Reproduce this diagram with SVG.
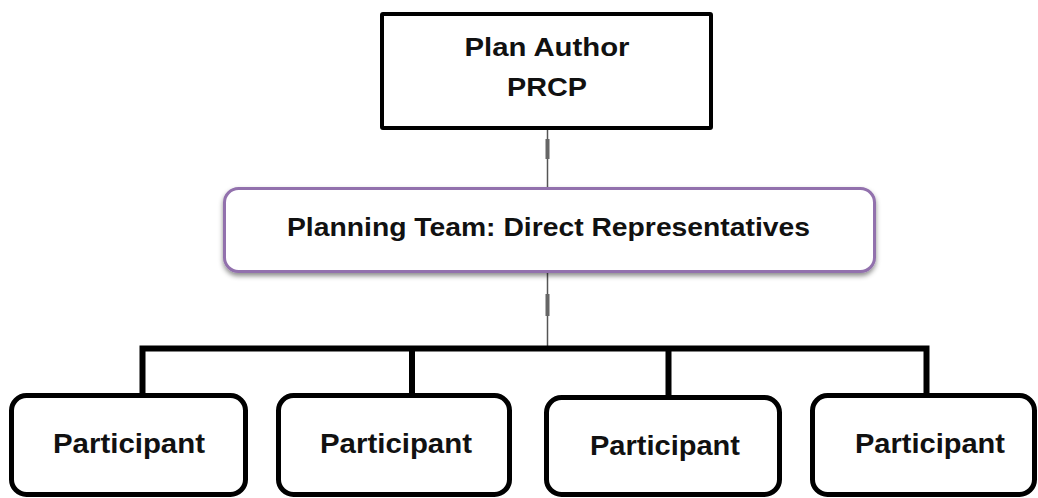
<svg xmlns="http://www.w3.org/2000/svg" width="1038" height="498" viewBox="0 0 1038 498">
<defs>
<filter id="sh" x="-5%" y="-20%" width="110%" height="150%">
<feDropShadow dx="0" dy="3" stdDeviation="2.5" flood-color="#000" flood-opacity="0.45"/>
</filter>
<style>
.t{font-family:"Liberation Sans",Arial,sans-serif;font-weight:bold;fill:#111;text-anchor:middle}
.box{fill:#fff;stroke:#000}
.thin{stroke:#555;stroke-width:1.5;fill:none}
.bus{stroke:#000;stroke-width:6;fill:none;stroke-linecap:square}
.tick{fill:#666}
</style>
</defs>
<rect width="1038" height="498" fill="#fff"/>
<g id="connectors">
<line class="thin" x1="547.5" y1="130" x2="547.5" y2="188"/>
<rect class="tick" x="545.5" y="139" width="4" height="20"/>
<line class="thin" x1="547.5" y1="273" x2="547.5" y2="346"/>
<rect class="tick" x="545.5" y="294" width="4" height="22"/>
<path class="bus" d="M142.5 395 V348.5 H926.5 V395 M412 348.5 V395 M668.5 348.5 V397"/>
</g>
<g id="plan-author">
<rect class="box" x="382" y="14" width="329" height="114" stroke-width="4" rx="1"/>
<text class="t" x="547" y="56" font-size="26.5" textLength="165" lengthAdjust="spacingAndGlyphs">Plan Author</text>
<text class="t" x="547" y="96" font-size="26.5" textLength="80" lengthAdjust="spacingAndGlyphs">PRCP</text>
</g>
<g id="planning-team">
<rect x="224.5" y="188.5" width="650" height="83" rx="14" fill="#fff" stroke="#9271ad" stroke-width="3" filter="url(#sh)"/>
<text class="t" x="548.5" y="236" font-size="25" textLength="523" lengthAdjust="spacingAndGlyphs">Planning Team: Direct Representatives</text>
</g>
<g id="participant-1">
<rect class="box" x="11.5" y="395.5" width="234" height="99" rx="15" stroke-width="5"/>
<text class="t" x="129" y="453" font-size="28.5" textLength="152" lengthAdjust="spacingAndGlyphs">Participant</text>
</g>
<g id="participant-2">
<rect class="box" x="278.5" y="395.5" width="231" height="99" rx="15" stroke-width="5"/>
<text class="t" x="396" y="453" font-size="28.5" textLength="152" lengthAdjust="spacingAndGlyphs">Participant</text>
</g>
<g id="participant-3">
<rect class="box" x="546.5" y="397.5" width="233" height="97" rx="15" stroke-width="5"/>
<text class="t" x="665" y="455" font-size="28.5" textLength="150" lengthAdjust="spacingAndGlyphs">Participant</text>
</g>
<g id="participant-4">
<rect class="box" x="812.5" y="395.5" width="222" height="99" rx="15" stroke-width="5"/>
<text class="t" x="930" y="453" font-size="28.5" textLength="150" lengthAdjust="spacingAndGlyphs">Participant</text>
</g>
</svg>
